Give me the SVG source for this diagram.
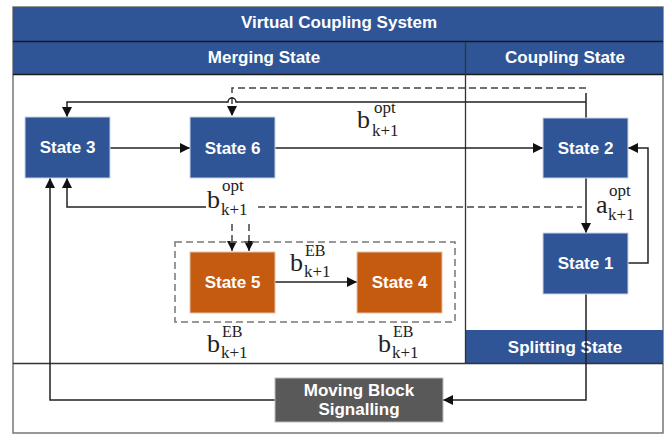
<svg xmlns="http://www.w3.org/2000/svg" width="667" height="436" viewBox="0 0 667 436">
<defs>
<marker id="ah" viewBox="0 0 10 10" refX="10" refY="5" markerWidth="10" markerHeight="10" markerUnits="userSpaceOnUse" orient="auto">
<path d="M0,0 L10,5 L0,10 z" fill="#111"/>
</marker>
<style>
.hd{font-family:"Liberation Sans",Arial,sans-serif;font-weight:bold;font-size:17px;fill:#fff;text-anchor:middle}
.st{font-family:"Liberation Sans",Arial,sans-serif;font-weight:bold;font-size:17px;fill:#fff;text-anchor:middle}
.blue{fill:#2F5597;stroke:#C9D3E6;stroke-width:1}
.orange{fill:#C55A11;stroke:#E8C2A8;stroke-width:1}
.gray{fill:#595959;stroke:#BBBBBB;stroke-width:1}
.ln{fill:none;stroke:#222;stroke-width:1.5}
.ds{fill:none;stroke:#444;stroke-width:1.5;stroke-dasharray:7,4}
.fr{fill:none;stroke:#333;stroke-width:1.3}
.m{font-family:"Liberation Serif","Times New Roman",serif;fill:#222}
.big{font-size:26px}
.sm{font-size:17px}
.sx{font-size:16px}
</style>
</defs>

<g id="frame">
<rect x="13" y="7" width="650" height="426" fill="#fff" stroke="#777" stroke-width="1.5"/>
<rect x="13" y="7" width="650" height="34" fill="#2F5597"/>
<rect x="13" y="42" width="650" height="32" fill="#2F5597"/>
<line x1="13" y1="41.5" x2="663" y2="41.5" stroke="#1a1a1a" stroke-width="1.5"/>
<line x1="13" y1="74.5" x2="663" y2="74.5" stroke="#1a1a1a" stroke-width="1.5"/>
<rect x="465" y="330" width="198" height="33" fill="#2F5597"/>
<line x1="465.5" y1="42" x2="465.5" y2="363" class="fr"/>
<line x1="13" y1="363.5" x2="663" y2="363.5" class="fr"/>
<text class="hd" x="339" y="28">Virtual Coupling System</text>
<text class="hd" x="264" y="63">Merging State</text>
<text class="hd" x="565" y="63">Coupling State</text>
<text class="hd" x="565" y="353">Splitting State</text>
</g>

<g id="connectors">
<path class="ds" d="M586,88 H232 V116" marker-end="url(#ah)"/>
<path class="ln" d="M586,118 V93"/>
<path class="ln" d="M586,102 H236 A4,4 0 0 0 228,102 H67 V117" marker-end="url(#ah)"/>
<path class="ln" d="M110,148 H190" marker-end="url(#ah)"/>
<path class="ln" d="M275,148 H543" marker-end="url(#ah)"/>
<path class="ln" d="M586,178 V233" marker-end="url(#ah)"/>
<path class="ln" d="M628,263 H648 V148 H628" marker-end="url(#ah)"/>
<path class="ln" d="M206,207 H67 V178" marker-end="url(#ah)"/>
<path class="ds" d="M258,207 H582"/>
<path class="ds" d="M232,224 V251" marker-end="url(#ah)"/>
<path class="ds" d="M249,224 V251" marker-end="url(#ah)"/>
<path class="ln" d="M275,282 H357" marker-end="url(#ah)"/>
<path class="ln" d="M586,294 V400 H443" marker-end="url(#ah)"/>
<path class="ln" d="M275,400 H50 V178" marker-end="url(#ah)"/>
<rect x="175" y="242" width="280" height="80" fill="none" stroke="#777" stroke-width="1.5" stroke-dasharray="7,4"/>
</g>

<g id="labels">
<text class="m big" x="357" y="128">b</text><text class="m sm" x="374" y="113">opt</text><text class="m sm" x="372" y="136">k+1</text>
<text class="m big" x="207" y="208">b</text><text class="m sm" x="222" y="191">opt</text><text class="m sm" x="221" y="215">k+1</text>
<text class="m big" x="596" y="213">a</text><text class="m sm" x="609" y="196">opt</text><text class="m sm" x="608" y="220">k+1</text>
<text class="m big" x="290" y="271">b</text><text class="m sx" x="305" y="256">EB</text><text class="m sm" x="304" y="277">k+1</text>
<text class="m big" x="207" y="352">b</text><text class="m sx" x="222" y="337">EB</text><text class="m sm" x="221" y="358">k+1</text>
<text class="m big" x="378" y="352">b</text><text class="m sx" x="393" y="337">EB</text><text class="m sm" x="392" y="358">k+1</text>
</g>

<g id="state3"><rect class="blue" x="25" y="117" width="85" height="61"/><text class="st" x="67.5" y="153">State 3</text></g>
<g id="state6"><rect class="blue" x="190" y="117" width="85" height="61"/><text class="st" x="232.5" y="154">State 6</text></g>
<g id="state2"><rect class="blue" x="543" y="118" width="85" height="60"/><text class="st" x="585.5" y="154">State 2</text></g>
<g id="state1"><rect class="blue" x="543" y="233" width="85" height="61"/><text class="st" x="585.5" y="269">State 1</text></g>
<g id="state5"><rect class="orange" x="190" y="252" width="85" height="61"/><text class="st" x="232.5" y="288">State 5</text></g>
<g id="state4"><rect class="orange" x="357" y="252" width="85" height="61"/><text class="st" x="399.5" y="288">State 4</text></g>
<g id="movingblock"><rect class="gray" x="275" y="378" width="168" height="44"/><text class="st" x="359" y="396">Moving Block</text><text class="st" x="359" y="415">Signalling</text></g>
</svg>
